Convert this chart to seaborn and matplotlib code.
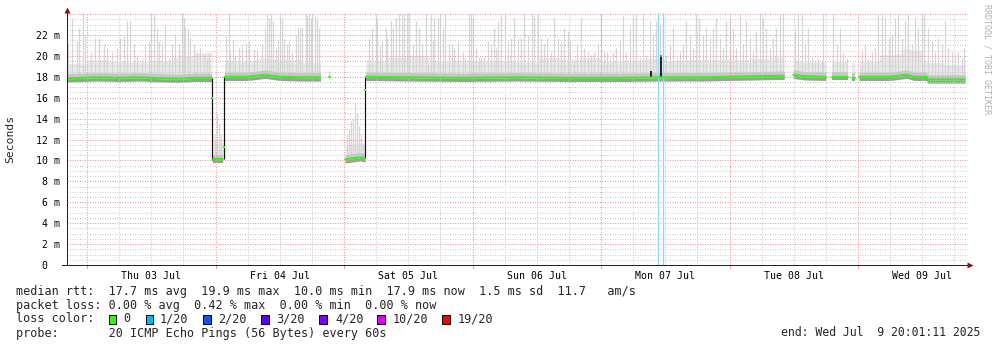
import numpy as np
import pandas as pd
import matplotlib
matplotlib.use("Agg")
import matplotlib.pyplot as plt
import seaborn as sns
from matplotlib.patches import Rectangle

# ---------------- data (hours relative to Thu 03 Jul 00:00, values in ms) -------------
day_labels = ["Thu 03 Jul", "Fri 04 Jul", "Sat 05 Jul", "Sun 06 Jul",
              "Mon 07 Jul", "Tue 08 Jul", "Wed 09 Jul"]
y_tick_vals = [0, 2, 4, 6, 8, 10, 12, 14, 16, 18, 20, 22]
y_tick_labels = ["0  ", "2 m", "4 m", "6 m", "8 m", "10 m", "12 m", "14 m",
                 "16 m", "18 m", "20 m", "22 m"]

# median rtt line (None = gap)
median_t = [-3.75, 2, 6, 10, 14, 17, 20, 23.3, None,
            23.5, 25.4, None,
            25.65, 30, 33.3, 36, 40, 43.6, None,
            45.1, 45.35, None,
            48.2, 49.5, 51.0, 51.9, None,
            52.05, 60, 70, 80, 90, 100, 107, 115, 125, 130.2, None,
            131.9, 134, 138.0, None,
            139.1, 142.1, None,
            142.95, 143.35, None,
            144.2, 150, 153.1, 154.5, 156.8, 157.0, 164.0]
median_v = [17.85, 17.95, 17.9, 17.95, 17.85, 17.8, 17.9, 17.9, None,
            10.1, 10.1, None,
            18.0, 18.0, 18.2, 18.0, 17.95, 17.95, None,
            18.0, 18.0, None,
            10.1, 10.2, 10.3, 10.2, None,
            18.0, 17.95, 17.9, 17.95, 17.9, 17.9, 17.95, 17.95, 18.05, 18.1, None,
            18.2, 18.05, 18.0, None,
            18.0, 18.0, None,
            17.9, 17.9, None,
            18.0, 18.0, 18.2, 18.0, 18.0, 17.75, 17.75]

# smoke: upper extent of the dense smoke above the median, per 4 h bin from -4 h
body_bin_start = -4
body_extent = [1.4, 1.7, 1.6, 1.5, 1.7, 2.1, 2.4, 1.6, 1.5, 1.6, 1.7, 1.4, 1.2, 1.4,
               1.6, 1.9, 2.1, 1.6, 1.7, 1.6, 1.6, 1.5, 1.9, 1.8, 1.9, 1.6, 1.7, 1.8,
               1.6, 1.7, 1.7, 1.6, 1.7, 1.8, 1.4, 1.4, 1.4, 1.5, 2.1, 2.5, 1.6, 1.4]

# smoke spikes (max ping)
spike_t = [-3.6, -2.8, -1.9, -1.43, -0.75, -0.31, 0.81, 1.56, 2.18, 3.1, 3.7, 4.67, 5.6, 6.2,
           6.85, 7.47, 8.1, 8.7, 9.34, 10.27, 10.9, 11.64, 12.0, 12.45, 13.07, 13.4, 14.0,
           14.6, 15.25, 15.9, 16.5, 17.1, 17.75, 18.06, 18.37, 18.86, 19.3, 19.9, 20.55,
           21.17, 21.8, 22.4, 22.85,
           23.9, 24.3, 24.7, 25.1,
           26.0, 26.46, 26.77, 27.2, 27.7, 28.3, 28.95, 29.6, 30.25, 31.2, 31.8, 32.7, 33.2,
           33.55, 34.0, 34.4, 34.8, 35.2, 35.6, 36.05, 36.5, 36.8, 37.3, 37.7, 38.35, 38.97,
           39.4, 39.8, 40.2, 40.8, 41.15, 41.46, 41.77, 42.1, 42.5, 42.9, 43.33,
           45.2,
           48.6, 48.9, 49.3, 49.7, 50.1, 50.4, 50.8, 51.2, 51.5,
           52.67, 53.3, 53.9, 54.2, 54.7, 55.16, 55.8, 56.1, 56.7, 57.2, 57.65, 58.3, 58.9,
           59.2, 59.8, 60.14, 60.8, 61.4, 62.0, 62.6, 63.25, 63.6, 64.2, 64.55, 64.86, 65.5,
           65.9, 66.4, 66.85, 67.66, 68.16, 68.6, 69.2, 70.15, 70.65, 71.27, 71.7, 72.0,
           72.64, 73.14, 73.57, 74.2, 74.8, 75.44, 76.06, 76.37, 76.7, 77.3, 78.06, 78.55,
           79.2, 79.8, 80.4, 81.0, 81.67, 82.3, 83.1, 83.5, 84.16, 84.78, 85.4, 86.0, 86.65,
           87.27, 87.9, 88.5, 89.1, 89.76, 90.2, 91.0, 91.6, 92.25, 92.87, 93.5, 94.1, 94.7,
           95.36, 96.0, 96.6, 97.2, 97.6, 98.24, 98.87, 99.5, 100.1, 100.7, 101.36, 101.98,
           102.6, 103.2, 103.85, 104.47, 105.1, 105.7, 106.3, 107.0, 108.2, 108.8, 109.45,
           110.1, 110.7, 111.3, 111.94, 112.6, 113.2, 113.8, 114.25, 115.05, 115.7, 116.3,
           116.9, 117.55, 118.17, 118.8, 119.4, 120.0, 120.66, 121.3, 121.9, 122.5, 123.15,
           123.8, 124.4, 125.0, 125.64, 126.26, 126.9, 127.5, 128.1, 128.75, 129.4, 130.0,
           132.2, 132.86, 133.5, 134.1, 134.7, 135.35, 135.97, 136.6, 137.2, 137.5,
           139.4, 140.0, 140.6, 141.26, 141.9,
           144.7, 145.3, 145.9, 146.55, 147.2, 147.8, 148.4, 149.05, 149.7, 150.3, 150.9,
           151.5, 152.2, 152.8, 153.4, 154.0, 154.65, 155.3, 155.9, 156.4, 157.14, 157.8,
           158.4, 159.0, 159.6, 160.25, 160.9, 161.5, 162.1, 162.75, 163.4, 163.8]
spike_v = [21.2, 23.6, 21.4, 22.7, 24.3, 22.0, 20.4, 21.7, 21.7, 21.1, 20.8, 20.4, 20.8, 21.7,
           21.9, 23.3, 23.3, 21.1, 20.1, 19.8, 21.1, 21.4, 24.3, 24.0, 22.7, 21.4, 21.1,
           23.0, 19.8, 21.1, 22.0, 21.1, 24.3, 23.6, 22.8, 22.7, 21.7, 21.1, 20.4,
           20.8, 20.1, 19.8, 20.3,
           12.0, 14.5, 13.5, 12.5,
           22.0, 24.0, 20.4, 21.5, 20.1, 20.8, 21.1, 21.2, 21.4, 20.6, 20.6, 21.1, 22.7,
           24.0, 23.6, 24.0, 23.3, 20.8, 21.5, 23.8, 23.6, 21.7, 21.1, 21.4, 20.4, 22.0,
           22.7, 22.8, 22.7, 24.0, 23.8, 24.0, 23.6, 24.0, 23.8, 23.6, 22.7,
           18.6,
           12.5, 13.0, 13.8, 14.0, 15.6, 14.5, 13.3, 12.5, 11.5,
           21.7, 22.7, 24.0, 23.6, 21.0, 21.4, 22.7, 21.7, 23.3, 22.7, 23.6, 24.0, 24.0,
           24.0, 24.0, 24.3, 21.1, 23.3, 22.7, 21.1, 24.0, 19.2, 24.0, 21.4, 23.6, 23.6,
           24.0, 22.7, 24.0, 21.1, 21.1, 20.8, 21.4, 20.4, 19.8, 24.0, 24.0, 23.6,
           20.8, 19.9, 19.8, 19.9, 21.4, 21.1, 22.7, 20.8, 23.3, 24.0, 24.3, 21.4,
           21.7, 23.6, 21.7, 21.7, 24.0, 22.0, 24.0, 23.8, 24.0, 21.7, 21.1, 21.7, 20.4,
           23.6, 21.7, 21.4, 22.7, 22.4, 21.4, 19.5, 21.1, 23.6, 20.8, 20.4, 20.1, 20.4,
           21.1, 24.0, 20.4, 20.4, 19.8, 20.4, 20.8, 21.4, 23.8, 20.4, 22.7, 24.0,
           24.0, 19.8, 24.0, 20.1, 23.3, 22.0, 23.3, 23.0, 20.1, 21.1, 22.7,
           19.8, 20.4, 21.1, 23.3, 22.0, 20.8, 24.0, 23.6, 22.0, 22.7, 21.7,
           22.7, 23.6, 21.7, 20.8, 23.3, 23.6, 22.7, 20.8, 24.0, 21.1, 23.3,
           21.7, 20.4, 22.4, 24.0, 23.6, 22.7, 20.8, 21.7, 22.7, 24.0, 24.0,
           22.7, 24.0, 24.0, 21.1, 22.7, 19.8, 19.5, 19.8, 19.5, 24.0,
           24.0, 21.1, 22.7, 20.4, 19.8,
           20.4, 21.1, 19.8, 20.4, 20.8, 24.0, 24.0, 23.6, 21.7, 22.0, 23.6,
           24.0, 21.7, 23.3, 24.0, 21.1, 23.6, 22.7, 24.0, 24.0, 22.7, 21.4,
           20.4, 21.7, 21.1, 23.3, 20.8, 20.4, 20.1, 20.4, 19.8, 20.8]

# steep transitions (dark) and loss marks
transition_t = [23.38, 25.6, 51.98]
transition_lo = [10.0, 10.1, 10.2]
transition_hi = [17.9, 18.0, 18.0]
transition_dot_t = [23.4, 25.55, 51.93]
transition_dot_v = [16.0, 11.3, 16.7]
dark_spike_t = [105.3, 107.25]
dark_spike_lo = [17.9, 17.9]
dark_spike_hi = [18.6, 20.0]
loss_line_t = [106.65, 107.55]

loss_labels = ["0", "1/20", "2/20", "3/20", "4/20", "10/20", "19/20"]
loss_colors = ["#26ff00", "#00b8ff", "#0059ff", "#5e00ff", "#7e00ff", "#dd00ff", "#ff0000"]

median_line = ("median rtt:  17.7 ms avg  19.9 ms max  10.0 ms min  17.9 ms now"
               "  1.5 ms sd  11.7   am/s")
loss_line = "packet loss: 0.00 % avg  0.42 % max  0.00 % min  0.00 % now"
probe_line = "probe:       20 ICMP Echo Pings (56 Bytes) every 60s"
end_text = "end: Wed Jul  9 20:01:11 2025"

# ---------------- figure -------------
W, H = 997, 347
sns.set_style("white")
plt.rcParams['font.family'] = ['DejaVu Sans Mono', 'DejaVu Sans']
fig = plt.figure(figsize=(W / 100, H / 100), dpi=100)
ax = fig.add_axes([67 / W, 1 - 265 / H, (968 - 67) / W, (265 - 13) / H])
XMIN, XMAX, YMAX = -3.75, 164.55, 24.1
PX = 0.72  # one pixel in points

# median segments dataframe
rows, seg = [], 0
for t, v in zip(median_t, median_v):
    if t is None:
        seg += 1
        continue
    rows.append((t, v, seg))
med = pd.DataFrame(rows, columns=["t", "v", "seg"])
valid_t = med["t"].to_numpy()
valid_v = med["v"].to_numpy()

# smoke body per segment
for s, g in med.groupby("seg"):
    t0, t1 = g["t"].min(), g["t"].max()
    if t1 - t0 < 0.3:
        continue
    tt = np.linspace(t0, t1, max(int((t1 - t0) / 0.05), 2))
    mm = np.interp(tt, g["t"], g["v"])
    idx = np.clip(((tt - body_bin_start) // 4).astype(int), 0, len(body_extent) - 1)
    ext = np.array(body_extent)[idx]
    ax.fill_between(tt, mm - 0.35, mm + ext, color="#e9e9e9", lw=0, zorder=1)
    ax.fill_between(tt, mm, mm + 0.45, color="#c6c6c6", lw=0, zorder=1.2)
    ax.fill_between(tt, mm - 0.35, mm - 0.05, color="#9c9c9c", lw=0, zorder=1.3)

# spikes
st = np.array(spike_t)
base = np.interp(st, valid_t, valid_v)
ax.vlines(st, base, spike_v, colors="#d6d6d6", lw=1.2 * PX, zorder=1.1)

# grid (drawn over the smoke, as rrdtool does)
for y in np.arange(0.5, 24.01, 0.5):
    major = abs(y / 2 - round(y / 2)) < 1e-6
    ax.axhline(y, color="#e39a9a" if major else "#cccccc", lw=PX,
               ls=(0, (1, 1.5)), zorder=2)
for x in range(0, 165, 6):
    major = x % 24 == 0
    ax.axvline(x, color="#e39a9a" if major else "#cccccc", lw=PX,
               ls=(0, (1, 1.5)), zorder=2)

# loss lines
for t in loss_line_t:
    ax.axvline(t, color="#8fd6ff", lw=1.2 * PX, zorder=2.5)

# transitions
ax.vlines(transition_t, transition_lo, transition_hi, colors="#111111", lw=1.2 * PX, zorder=3)
ax.vlines(dark_spike_t, dark_spike_lo, dark_spike_hi, colors="#111111", lw=1.8 * PX, zorder=3)

# median line with seaborn
sns.lineplot(data=med, x="t", y="v", units="seg", estimator=None, sort=False,
             color="#26ff00", lw=2.0 * PX, ax=ax, legend=False, zorder=4)
ax.scatter(transition_dot_t, transition_dot_v, s=3, color="#26ff00", marker="s",
           linewidths=0, zorder=4)
ax.scatter([107.25], [20.0], s=3, color="#00b8ff", marker="s", linewidths=0, zorder=4)

ax.set_xlim(XMIN, XMAX)
ax.set_ylim(0, YMAX)
ax.set_xlabel("")
ax.set_ylabel("")

# ticks
ax.set_yticks(y_tick_vals)
ax.set_yticklabels(y_tick_labels)
ax.set_xticks([12 + 24 * i for i in range(7)])
ax.set_xticklabels(day_labels)
ax.tick_params(axis="both", which="major", length=0, labelsize=7.1, colors="#000000")
ax.tick_params(axis="y", pad=5.2)
ax.tick_params(axis="x", pad=4)
ax.set_xticks(list(range(0, 165, 6)), minor=True)
ax.tick_params(axis="x", which="minor", length=2, width=PX, color="#c9c9c9", direction="out")
for x in range(0, 165, 24):
    ax.plot([x, x], [0, -0.25], color="#e39a9a", lw=PX, clip_on=False, zorder=5)

for side in ["top", "right"]:
    ax.spines[side].set_visible(False)
for side in ["left", "bottom"]:
    ax.spines[side].set_color("#222222")
    ax.spines[side].set_linewidth(PX)
    ax.spines[side].set_zorder(6)
ax.spines["bottom"].set_bounds(XMIN - 0.9, XMAX)

# axis arrows
ax.plot([XMIN], [YMAX + 0.25], marker="^", ms=4.2, color="#8b1010", clip_on=False,
        mec="none", zorder=7)
ax.plot([XMAX + 0.45], [0], marker=">", ms=4.2, color="#8b1010", clip_on=False,
        mec="none", zorder=7)

FS = 8.45


def ftext(x, y, s, fs=FS, **kw):
    fig.text(x / W, 1 - y / H, s, va="center", fontsize=fs,
             family=["DejaVu Sans Mono"], **kw)


# y label and watermark
fig.text(10 / W, 1 - 139 / H, "Seconds", rotation=90, va="center", ha="center",
         fontsize=8.2, family=["DejaVu Sans Mono"])
fig.text(987 / W, 1 - 4 / H, "RRDTOOL / TOBI OETIKER", rotation=270, va="top",
         ha="center", fontsize=6.0, color="#b0b0b0", family=["DejaVu Sans Mono"])

# legend block
ftext(16, 291, median_line)
ftext(16, 305, loss_line)
ftext(16, 319, "loss color:")
box_x = [108.5, 145.5, 203, 261, 319, 377, 442]
lab_x = [123, 160, 218, 276, 335, 393, 458]
for bx, lx, c, s in zip(box_x, lab_x, loss_colors, loss_labels):
    fig.add_artist(Rectangle((bx / W, 1 - 323.5 / H), 7.5 / W, 8.5 / H,
                             facecolor=c, edgecolor="#000000", lw=0.7,
                             transform=fig.transFigure))
    ftext(lx, 319, s)
ftext(16, 333, probe_line)
ftext(980, 333, end_text, fs=8.3, ha="right")

fig.savefig("out.png", dpi=100, facecolor="white")
